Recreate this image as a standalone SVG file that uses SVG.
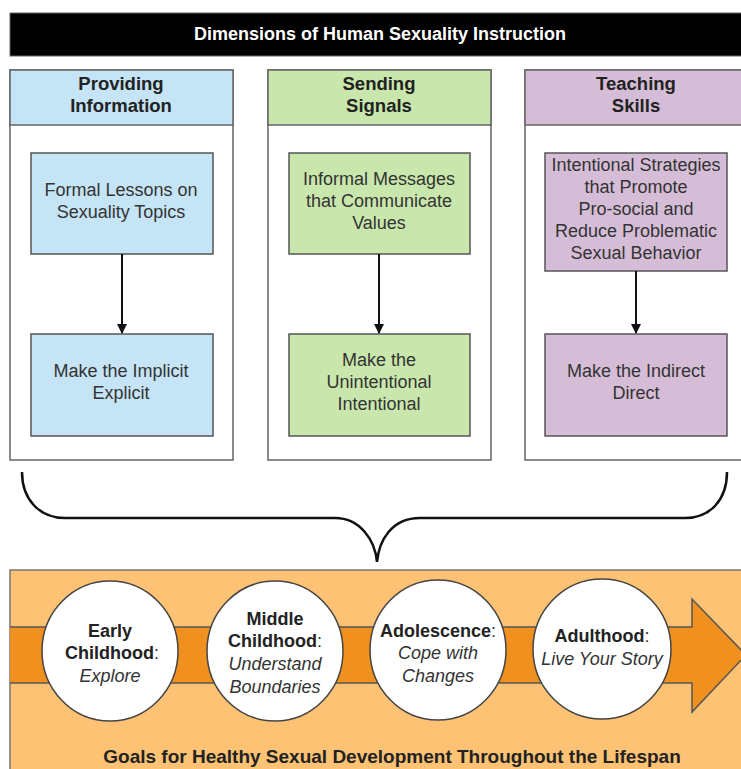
<svg xmlns="http://www.w3.org/2000/svg" width="741" height="769" viewBox="0 0 741 769">
<style>
.t{font-family:"Liberation Sans",Arial,sans-serif;fill:#333;text-anchor:middle}
.hd{font-size:18.5px;font-weight:bold;fill:#222}
.bx{font-size:18px}
.col{fill:#fff;stroke:#666;stroke-width:1.5}
.blue{fill:#C5E4F6;stroke:#555;stroke-width:1.5}
.green{fill:#C9E7AC;stroke:#555;stroke-width:1.5}
.purple{fill:#D6BDD7;stroke:#555;stroke-width:1.5}
.circ{fill:#fff;stroke:#444;stroke-width:1.5}
.ct{font-size:18px}
.b{font-weight:bold;fill:#222}
.i{font-style:italic}
.conn{stroke:#111;stroke-width:2;fill:none}
</style>
<defs>
<marker id="ah" markerWidth="10" markerHeight="10" refX="9" refY="5" orient="auto" markerUnits="userSpaceOnUse">
<path d="M0,0 L10,5 L0,10 Z" fill="#111"/>
</marker>
</defs>
<rect width="741" height="769" fill="#fff"/>
<g id="title">
<rect x="10" y="13" width="740" height="43" fill="#000" stroke="#666" stroke-width="1"/>
<text x="380" y="40" class="t" style="font-size:18px;font-weight:bold;fill:#fff">Dimensions of Human Sexuality Instruction</text>
</g>
<g id="col-info">
<rect x="10" y="70" width="223" height="390" class="col"/>
<rect x="10" y="70" width="223" height="55" class="blue" style="stroke:#666"/>
<text x="121" y="90" class="t hd">Providing</text>
<text x="121" y="112" class="t hd">Information</text>
</g>
<g id="formal">
<rect x="31" y="153" width="182" height="101" class="blue"/>
<text x="121" y="196" class="t bx">Formal Lessons on</text>
<text x="121" y="218" class="t bx">Sexuality Topics</text>
</g>
<g id="implicit">
<rect x="31" y="334" width="182" height="102" class="blue"/>
<text x="121" y="377" class="t bx">Make the Implicit</text>
<text x="121" y="399" class="t bx">Explicit</text>
</g>
<g id="col-signals">
<rect x="268" y="70" width="223" height="390" class="col"/>
<rect x="268" y="70" width="223" height="55" class="green" style="stroke:#666"/>
<text x="379" y="90" class="t hd">Sending</text>
<text x="379" y="112" class="t hd">Signals</text>
</g>
<g id="informal">
<rect x="289" y="153" width="181" height="101" class="green"/>
<text x="379" y="185" class="t bx">Informal Messages</text>
<text x="379" y="207" class="t bx">that Communicate</text>
<text x="379" y="229" class="t bx">Values</text>
</g>
<g id="unintentional">
<rect x="289" y="334" width="181" height="102" class="green"/>
<text x="379" y="366" class="t bx">Make the</text>
<text x="379" y="388" class="t bx">Unintentional</text>
<text x="379" y="410" class="t bx">Intentional</text>
</g>
<g id="col-skills">
<rect x="525" y="70" width="225" height="390" class="col"/>
<rect x="525" y="70" width="225" height="55" class="purple" style="stroke:#666"/>
<text x="636" y="90" class="t hd">Teaching</text>
<text x="636" y="112" class="t hd">Skills</text>
</g>
<g id="strategies">
<rect x="545" y="153" width="182" height="118" class="purple"/>
<text x="636" y="171" class="t bx">Intentional Strategies</text>
<text x="636" y="193" class="t bx">that Promote</text>
<text x="636" y="215" class="t bx">Pro-social and</text>
<text x="636" y="237" class="t bx">Reduce Problematic</text>
<text x="636" y="259" class="t bx">Sexual Behavior</text>
</g>
<g id="indirect">
<rect x="545" y="334" width="182" height="102" class="purple"/>
<text x="636" y="377" class="t bx">Make the Indirect</text>
<text x="636" y="399" class="t bx">Direct</text>
</g>
<g id="connectors">
<line x1="122" y1="254" x2="122" y2="333" class="conn" marker-end="url(#ah)"/>
<line x1="379" y1="254" x2="379" y2="333" class="conn" marker-end="url(#ah)"/>
<line x1="636" y1="271" x2="636" y2="333" class="conn" marker-end="url(#ah)"/>
<path d="M22,472 C22,500 40,518 65,518 L335,518 C360,518 375,540 377,562 C379,540 392,518 420,518 L685,518 C710,518 727,500 727,472" stroke="#111" stroke-width="2.5" fill="none"/>
</g>
<g id="goals">
<rect x="10" y="570" width="740" height="210" fill="#FDC274" stroke="#777" stroke-width="1.5"/>
<path d="M10,627 L692,627 L692,599 L746,655 L692,712 L692,683 L10,683" fill="#F0901F" stroke="#555" stroke-width="1.5"/>
<text x="392" y="763" class="t" style="font-size:19px;font-weight:bold;fill:#222">Goals for Healthy Sexual Development Throughout the Lifespan</text>
</g>
<g id="early">
<ellipse cx="110" cy="651" rx="68" ry="70" class="circ"/>
<text x="110" y="637" class="t ct b">Early</text>
<text x="112" y="659" class="t ct"><tspan class="b">Childhood</tspan>:</text>
<text x="110" y="682" class="t ct i">Explore</text>
</g>
<g id="middle">
<ellipse cx="275" cy="651" rx="68" ry="70" class="circ"/>
<text x="275" y="625" class="t ct b">Middle</text>
<text x="275" y="647" class="t ct"><tspan class="b">Childhood</tspan>:</text>
<text x="275" y="670" class="t ct i">Understand</text>
<text x="275" y="693" class="t ct i">Boundaries</text>
</g>
<g id="adolescence">
<ellipse cx="438" cy="650" rx="68" ry="70" class="circ"/>
<text x="438" y="637" class="t ct"><tspan class="b">Adolescence</tspan>:</text>
<text x="438" y="659" class="t ct i">Cope with</text>
<text x="438" y="682" class="t ct i">Changes</text>
</g>
<g id="adulthood">
<ellipse cx="602" cy="649" rx="69" ry="70" class="circ"/>
<text x="602" y="642" class="t ct"><tspan class="b">Adulthood</tspan>:</text>
<text x="602" y="665" class="t ct i">Live Your Story</text>
</g>
</svg>
